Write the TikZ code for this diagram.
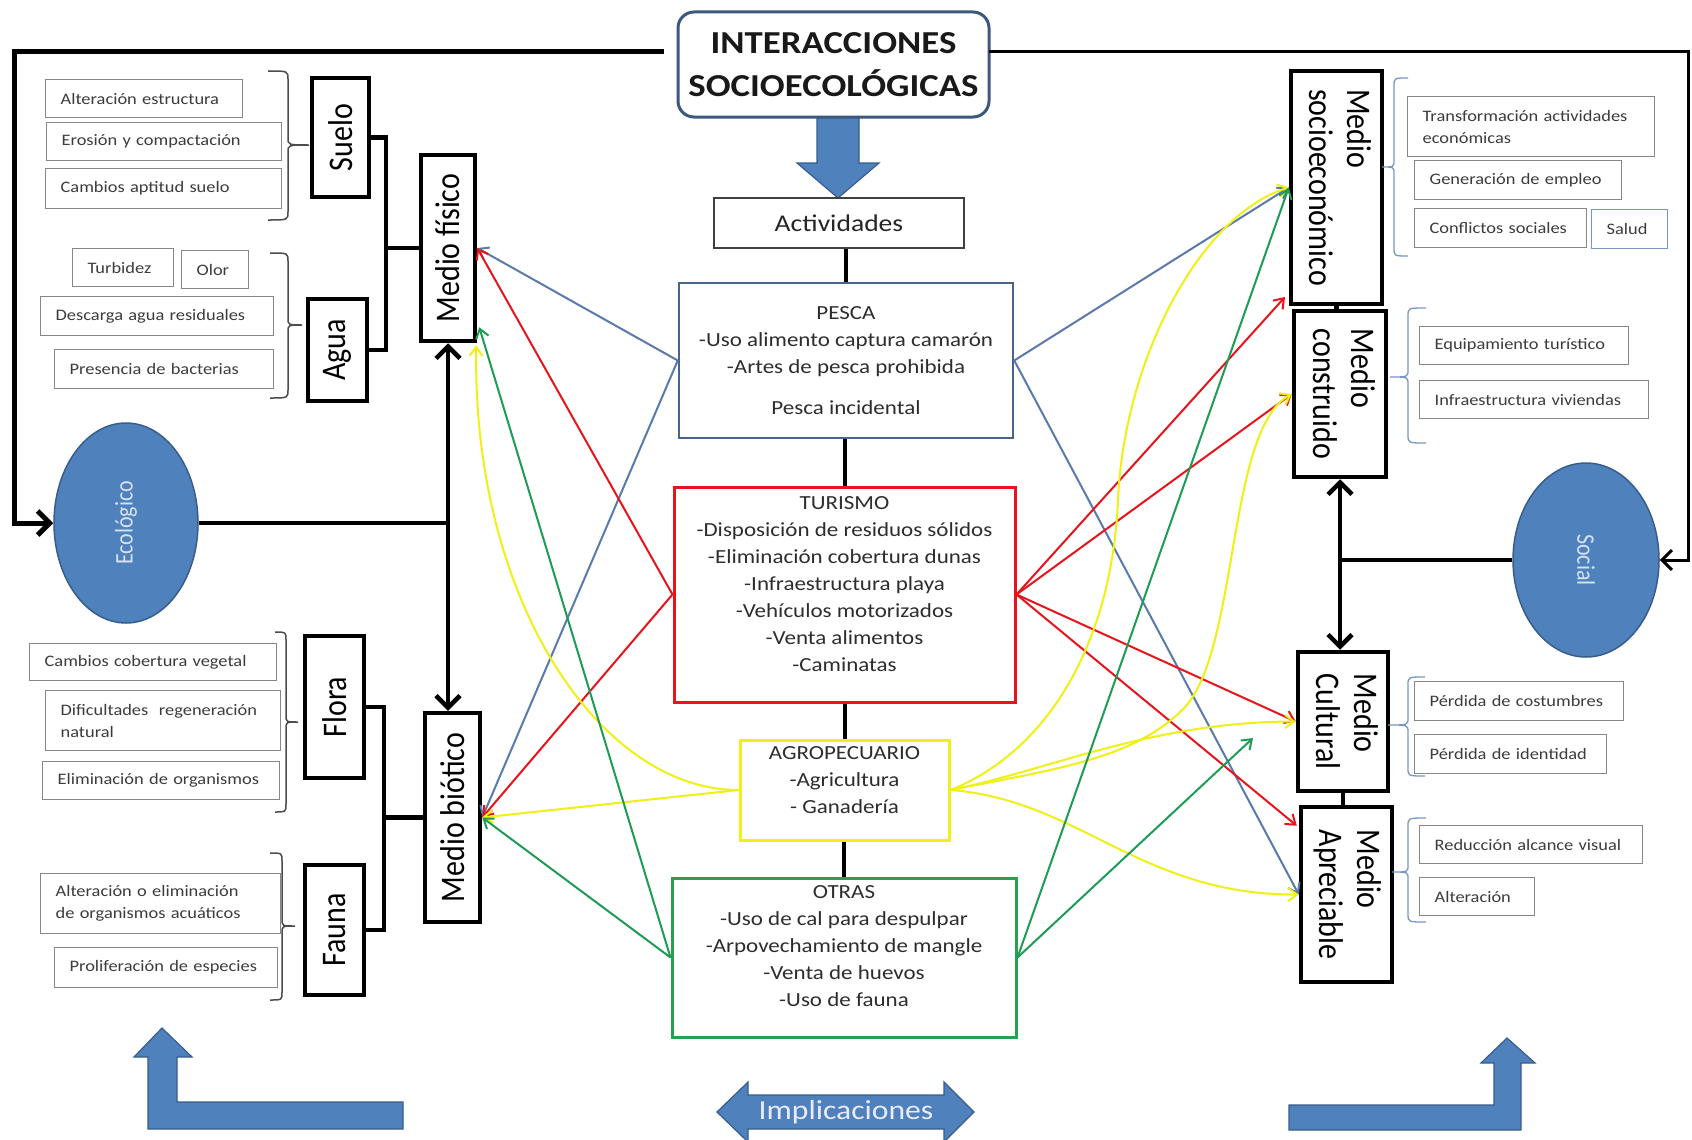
\documentclass[tikz,border=0pt]{standalone}
\usepackage{fontspec}
\setmainfont{Carlito}[FakeStretch=1.15]
\newfontfamily\rotfont{Carlito}
\usepackage{graphicx}
\usetikzlibrary{arrows.meta,calc,shapes.geometric}

\definecolor{blockblue}{RGB}{79,129,189}
\definecolor{blockedge}{RGB}{56,93,138}
\definecolor{titleedge}{RGB}{60,88,126}
\definecolor{pescaedge}{RGB}{72,100,138}
\definecolor{pescaline}{RGB}{90,122,172}
\definecolor{turred}{RGB}{232,20,28}
\definecolor{agroyel}{RGB}{240,240,20}
\definecolor{otrasgrn}{RGB}{40,160,80}
\definecolor{linegrn}{RGB}{30,155,85}
\definecolor{gedge}{RGB}{135,135,135}
\definecolor{gtext}{RGB}{60,60,60}
\definecolor{bredge}{RGB}{120,150,195}
\definecolor{ctext}{RGB}{45,45,45}
\definecolor{ovaltext}{RGB}{215,226,240}

% rotated label, slightly stretched across the reading direction
\newcommand{\vtext}[2]{\rotatebox{#1}{\scalebox{1}[1.15]{\rotfont #2}}}
% one unbreakable line of a small item box
\newcommand{\oneline}[1]{\mbox{#1}}
% curly bracket: style, hook x, spine x, tip x, top y, tip y, bottom y
\newcommand{\curly}[7]{\draw[#1] (#2,#5) .. controls (#3,#5) .. (#3,#5+8) -- (#3,#6-7) .. controls (#3,#6) .. (#4,#6) .. controls (#3,#6) .. (#3,#6+7) -- (#3,#7-8) .. controls (#3,#7) .. (#2,#7);}

\begin{document}
\begin{tikzpicture}[x=1pt,y=-1pt,
  every node/.style={inner sep=0pt},
  gbox/.style={draw=gedge, line width=1.3pt, text=gtext, anchor=north west, align=left, inner xsep=15pt, font=\fontsize{16}{22}\selectfont},
  mbox/.style={draw=black, line width=4.5pt, fill=white, font=\fontsize{30}{33}\selectfont},
  cbox/.style={line width=3pt, fill=white},
  ctxt/.style={anchor=north, align=center, text=ctext, font=\fontsize{20}{27}\selectfont},
  oval/.style={ellipse, draw=blockedge, line width=1.5pt, fill=blockblue, text=ovaltext, font=\fontsize{22}{26}\selectfont},
  blk/.style={draw=blockedge, line width=1.2pt, fill=blockblue},
  heavy/.style={line width=4.5pt},
  bigtip/.style={-{Straight Barb[length=12pt,width=24pt]}},
  carrow/.style={line width=2pt, -{Straight Barb[length=9pt,width=13pt]}},
  brL/.style={draw=black!70, line width=1.5pt},
  brR/.style={draw=bredge, line width=1.3pt}
]
\fill[white] (0,0) rectangle (1692,1140);
\useasboundingbox (0,0) rectangle (1692,1140);

% ---------- title and activities column ----------
\fill[blk] (817,112) -- (859,112) -- (859,163) -- (879,163) -- (838,198) -- (797,163) -- (817,163) -- cycle;
\node[draw=titleedge, line width=3pt, rounded corners=16pt, fill=white, minimum width=311pt, minimum height=105pt,
      align=center, font=\bfseries\fontsize{32}{43}\selectfont, text=black!90] (title) at (833.5,64.5) {INTERACCIONES\\SOCIOECOLÓGICAS};
\node[draw=black!75, line width=2pt, fill=white, minimum width=250pt, minimum height=50pt,
      font=\fontsize{24}{28}\selectfont, text=black!85] (act) at (839,223) {Actividades};

\node[cbox, draw=pescaedge, line width=2.5pt, minimum width=334pt, minimum height=155pt] (pesca) at (846,360.5) {};
\node[cbox, draw=turred, minimum width=341pt, minimum height=215pt] (tur) at (844.5,594.5) {};
\node[cbox, draw=agroyel, minimum width=209pt, minimum height=100pt] (agro) at (844.5,790) {};
\node[cbox, draw=otrasgrn, minimum width=344pt, minimum height=159pt] (otras) at (844,957.5) {};

\node[ctxt] (pescat) at (846,306.5) {PESCA\\-Uso alimento captura camarón\\-Artes de pesca prohibida\\[14pt]Pesca incidental};
\node[ctxt] (turt) at (844.5,496.5) {TURISMO\\-Disposición de residuos sólidos\\-Eliminación cobertura dunas\\-Infraestructura playa\\-Vehículos motorizados\\-Venta alimentos\\-Caminatas};
\node[ctxt] (agrot) at (844.5,746.5) {AGROPECUARIO\\-Agricultura\\- Ganadería};
\node[ctxt] (otrast) at (844,885.5) {OTRAS\\-Uso de cal para despulpar\\-Arpovechamiento de mangle\\-Venta de huevos\\-Uso de fauna};

\draw[line width=4pt] (pesca.north |- act.south) -- (pesca.north);
\draw[line width=4pt] (tur.north |- pesca.south) -- (tur.north);
\draw[line width=4pt] (agro.north |- tur.south) -- (agro.north);
\draw[line width=4pt] (otras.north |- agro.south) -- (otras.north);

% ---------- ecological side ----------
\node[oval, minimum width=144pt, minimum height=200pt] (eco) at (126,523) {\vtext{90}{Ecológico}};

\node[mbox, minimum width=57pt, minimum height=119pt] (suelo) at (340.5,137.5) {\vtext{90}{Suelo}};
\node[mbox, minimum width=59pt, minimum height=102pt] (agua) at (337.5,350) {\vtext{90}{Agua}};
\node[mbox, minimum width=54pt, minimum height=186pt] (fis) at (448,248) {\vtext{90}{Medio físico}};
\node[mbox, minimum width=59pt, minimum height=142pt] (flora) at (334.5,707) {\vtext{90}{Flora}};
\node[mbox, minimum width=59pt, minimum height=130pt] (fauna) at (334.5,930) {\vtext{90}{Fauna}};
\node[mbox, minimum width=55pt, minimum height=209pt] (bio) at (452.5,817.5) {\vtext{90}{Medio biótico}};

\coordinate (jf) at (386,248);
\coordinate (jb) at (384,817.5);
\draw[heavy] (suelo.east) -| (jf) |- (agua.east);
\draw[heavy] (jf) -- (fis.west);
\draw[heavy] (flora.east) -| (jb) |- (fauna.east);
\draw[heavy] (jb) -- (bio.west);
\draw[heavy] (eco.east) -- (eco.east -| fis.south);
\draw[heavy, {Straight Barb[length=12pt,width=24pt]}-{Straight Barb[length=12pt,width=24pt]}] (fis.south) -- (fis.south |- bio.north);

\coordinate (tlA) at (664,52);
\coordinate (tlB) at (14,52);
\draw[line width=5pt, bigtip] (tlA) -- (tlB) |- (eco.west);

\node[gbox, text width=167pt, minimum height=38pt] (g1) at (45,79) {\oneline{Alteración estructura}};
\node[gbox, text width=205pt, minimum height=38pt] (g2) at (46,122) {\oneline{Erosión y compactación}};
\node[gbox, text width=206pt, minimum height=40pt] (g3) at (45,168) {\oneline{Cambios aptitud suelo}};
\node[gbox, text width=71pt, minimum height=38pt] (g4) at (72,248) {\oneline{Turbidez}};
\node[gbox, text width=37pt, minimum height=38pt] (g5) at (181,250) {\oneline{Olor}};
\node[gbox, text width=203pt, minimum height=39pt] (g6) at (40,296) {\oneline{Descarga agua residuales}};
\node[gbox, text width=189pt, minimum height=39pt] (g7) at (54,349) {\oneline{Presencia de bacterias}};
\node[gbox, text width=217pt, minimum height=37pt] (g8) at (29,643) {\oneline{Cambios cobertura vegetal}};
\node[gbox, text width=205pt, minimum height=60pt] (g9) at (45,690) {\oneline{Dificultades\ \ regeneración}\\\oneline{natural}};
\node[gbox, text width=207pt, minimum height=38pt] (g10) at (42,761) {\oneline{Eliminación de organismos}};
\node[gbox, text width=210pt, minimum height=60pt] (g11) at (40,873) {\oneline{Alteración o eliminación}\\\oneline{de organismos acuáticos}};
\node[gbox, text width=193pt, minimum height=40pt] (g12) at (54,947) {\oneline{Proliferación de especies}};

\curly{brL}{268}{288}{309}{71}{145}{220}
\curly{brL}{270}{288}{302}{253}{325}{398}
\curly{brL}{275}{286}{298}{632}{722}{812}
\curly{brL}{270}{282}{295}{853}{926}{1000}

% ---------- social side ----------
\node[oval, minimum width=146pt, minimum height=194pt] (soc) at (1586,560) {\vtext{-90}{Social}};

\node[mbox, minimum width=91pt, minimum height=233pt] (socio) at (1336.5,187.5) {\vtext{-90}{\begin{tabular}{@{}l@{}}Medio\\socioeconómico\end{tabular}}};
\node[mbox, minimum width=92pt, minimum height=166pt] (constr) at (1340,394) {\vtext{-90}{\begin{tabular}{@{}l@{}}Medio\\construido\end{tabular}}};
\node[mbox, minimum width=90pt, minimum height=139pt] (cult) at (1343,721.5) {\vtext{-90}{\begin{tabular}{@{}l@{}}Medio\\Cultural\end{tabular}}};
\node[mbox, minimum width=91pt, minimum height=175pt] (apre) at (1346.5,894.5) {\vtext{-90}{\begin{tabular}{@{}l@{}}Medio\\Apreciable\end{tabular}}};

\draw[heavy] (socio.south) -- (socio.south |- constr.north);
\draw[heavy] (cult.south) -- (cult.south |- apre.north);
\draw[heavy] (soc.west) -- (soc.west -| constr.south);
\draw[heavy, {Straight Barb[length=12pt,width=24pt]}-{Straight Barb[length=12pt,width=24pt]}] (constr.south) -- (constr.south |- cult.north);

\coordinate (trA) at (989,52);
\coordinate (trB) at (1688,52);
\draw[line width=3pt, -{Straight Barb[length=10pt,width=20pt]}] (trA) -- (trB) |- (soc.east);

\node[gbox, text width=217pt, minimum height=60pt] (g13) at (1407,96) {\oneline{Transformación actividades}\\\oneline{económicas}};
\node[gbox, text width=177pt, minimum height=39pt] (g14) at (1414,160) {\oneline{Generación de empleo}};
\node[gbox, text width=142pt, minimum height=39pt] (g15) at (1414,208) {\oneline{Conflictos sociales}};
\node[gbox, draw=bredge, text width=46pt, minimum height=39pt] (g16) at (1591,209) {\oneline{Salud}};
\node[gbox, text width=179pt, minimum height=38pt] (g17) at (1419,326) {\oneline{Equipamiento turístico}};
\node[gbox, text width=199pt, minimum height=38pt] (g18) at (1419,380) {\oneline{Infraestructura viviendas}};
\node[gbox, text width=179pt, minimum height=39pt] (g19) at (1414,681) {\oneline{Pérdida de costumbres}};
\node[gbox, text width=162pt, minimum height=39pt] (g20) at (1414,734) {\oneline{Pérdida de identidad}};
\node[gbox, text width=193pt, minimum height=38pt] (g21) at (1419,825) {\oneline{Reducción alcance visual}};
\node[gbox, text width=85pt, minimum height=38pt] (g22) at (1419,877) {\oneline{Alteración}};

\curly{brR}{1408}{1394}{1382}{78}{167}{256}
\curly{brR}{1426}{1408}{1390}{308}{377}{443}
\curly{brR}{1425}{1408}{1388}{677}{725}{776}
\curly{brR}{1426}{1408}{1392}{818}{872}{922}

% ---------- bottom block arrows ----------
\fill[blk] (148,1129) -- (403,1129) -- (403,1102) -- (177,1102) -- (177,1057) -- (192,1057) -- (162,1028) -- (134,1057) -- (148,1057) -- cycle;
\fill[blk] (1521,1130) -- (1289,1130) -- (1289,1105) -- (1494,1105) -- (1494,1063) -- (1481,1063) -- (1507,1038) -- (1535,1063) -- (1521,1063) -- cycle;
\fill[blk] (717,1112) -- (748,1082) -- (748,1095) -- (944,1095) -- (944,1082) -- (974,1112) -- (944,1142) -- (944,1129) -- (748,1129) -- (748,1142) -- cycle;
\node[font=\fontsize{27.5}{30}\selectfont, text=white!92!blue] (impl) at (846,1112) {Implicaciones};

% ---------- activity impacts ----------
\coordinate (rsoc) at (1285,297);
\coordinate (gcult) at (1253,738);

\draw[carrow, pescaline] (pesca.west) -- (fis.east);
\draw[carrow, pescaline] (pesca.west) -- (bio.east);
\draw[carrow, pescaline] (pesca.east) -- (socio.west);
\draw[carrow, pescaline] (pesca.east) -- (apre.west);

\draw[carrow, turred] (tur.west) -- (fis.east);
\draw[carrow, turred] (tur.west) -- (bio.east);
\draw[carrow, turred] (tur.east) -- (rsoc);
\draw[carrow, turred] (tur.east) -- (constr.west);
\draw[carrow, turred] (tur.east) -- (cult.west);
\draw[carrow, turred] (tur.east) -- ($(apre.north west)+(-2,21)$);

\draw[carrow, agroyel] (agro.west) -- (bio.east);
\draw[carrow, agroyel] (agro.west) .. controls (600,790) and (472,600) .. ($(fis.south east)+(-1,2)$);
\draw[carrow, agroyel] (agro.east) .. controls (1050,750) and (1112,640) .. (1118,500) .. controls (1124,360) and (1200,215) .. (socio.west);
\draw[carrow, agroyel] (agro.east) .. controls (1050,770) and (1130,760) .. (1180,712) .. controls (1240,660) and (1225,430) .. (constr.west);
\draw[carrow, agroyel] (agro.east) .. controls (1050,770) and (1150,722) .. (cult.west);
\draw[carrow, agroyel] (agro.east) .. controls (1080,800) and (1140,895) .. (apre.west);

\draw[carrow, linegrn] (otras.west) -- ($(fis.south east)+(2,-16)$);
\draw[carrow, linegrn] (otras.west) -- (bio.east);
\draw[carrow, linegrn] (otras.east) -- (socio.west);
\draw[carrow, linegrn] (otras.east) -- (gcult);
\end{tikzpicture}
\end{document}
